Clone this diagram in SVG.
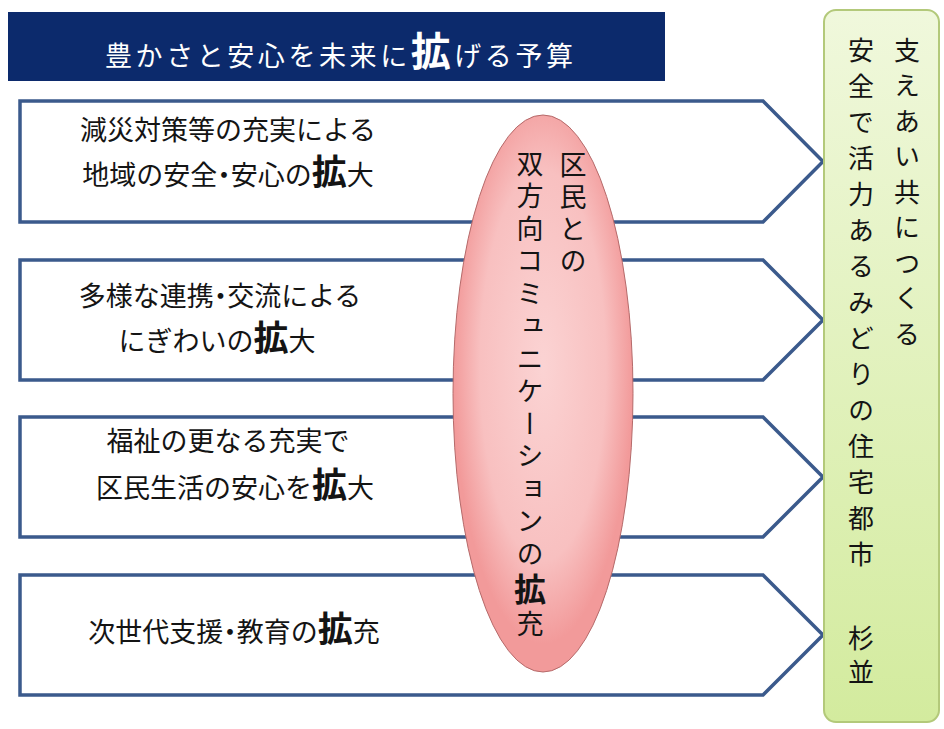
<svg xmlns="http://www.w3.org/2000/svg" width="944" height="729" viewBox="0 0 944 729">
<style>
.t{font-family:"Noto Sans CJK JP","Noto Sans CJK SC",sans-serif;fill:#141414;font-size:27px}
.k{font-weight:bold;font-size:35px}
.d{font-feature-settings:"palt"}
.box{fill:#ffffff;stroke:#3b5a8c;stroke-width:3.5;stroke-linejoin:miter}
.v{font-family:"Noto Sans CJK JP","Noto Sans CJK SC",sans-serif;fill:#141414;writing-mode:vertical-rl}
</style>
<defs>
<linearGradient id="g" x1="0" y1="0" x2="0" y2="1">
<stop offset="0" stop-color="#f0f8dc"/>
<stop offset="1" stop-color="#d3eb9e"/>
</linearGradient>
<radialGradient id="p" cx="0.5" cy="0.45" r="0.5">
<stop offset="0" stop-color="#fbd3d3"/>
<stop offset="0.7" stop-color="#f8c0c0"/>
<stop offset="1" stop-color="#f29a9a"/>
</radialGradient>
</defs>
<rect width="944" height="729" fill="#ffffff"/>
<g id="header">
<rect x="8" y="12" width="657" height="69" fill="#0c2a6c"/>
<text class="t" x="105" y="66" style="fill:#ffffff" textLength="468" lengthAdjust="spacing">豊かさと安心を未来に<tspan class="k" style="font-size:40px;fill:#ffffff">拡</tspan>げる予算</text>
</g>
<g id="connectors"></g>
<g id="box1">
<path class="box" d="M20,101 L763,101 L823,161.5 L763,222 L20,222 Z"/>
<text class="t" x="228" y="140" text-anchor="middle">減災対策等の充実による</text>
<text class="t" x="228" y="185" text-anchor="middle">地域の安全<tspan class="d">・</tspan>安心の<tspan class="k">拡</tspan>大</text>
</g>
<g id="box2">
<path class="box" d="M20,260 L763,260 L823,320 L763,380 L20,380 Z"/>
<text class="t" x="220" y="306" text-anchor="middle">多様な連携<tspan class="d">・</tspan>交流による</text>
<text class="t" x="217" y="351" text-anchor="middle">にぎわいの<tspan class="k">拡</tspan>大</text>
</g>
<g id="box3">
<path class="box" d="M20,417 L763,417 L823,477 L763,537 L20,537 Z"/>
<text class="t" x="228" y="451" text-anchor="middle">福祉の更なる充実で</text>
<text class="t" x="235" y="498" text-anchor="middle">区民生活の安心を<tspan class="k">拡</tspan>大</text>
</g>
<g id="box4">
<path class="box" d="M20,575 L763,575 L823,635 L763,695 L20,695 Z"/>
<text class="t" x="234" y="642" text-anchor="middle">次世代支援<tspan class="d">・</tspan>教育の<tspan class="k">拡</tspan>充</text>
</g>
<g id="ellipse">
<ellipse cx="543" cy="393.5" rx="90" ry="278.5" fill="url(#p)" stroke="#b56a6a" stroke-width="1"/>
<text class="v" x="573" y="151" style="font-size:27px;letter-spacing:5px">区民との</text>
<text class="v" x="530" y="150" style="font-size:27px;letter-spacing:5.5px">双方向コミュニケーションの<tspan style="font-weight:bold;font-size:32px">拡</tspan>充</text>
</g>
<g id="panel">
<rect x="824" y="10" width="115" height="712" rx="12" ry="12" fill="url(#g)" stroke="#b3c97a" stroke-width="2"/>
<text class="v" x="907" y="37" style="font-size:26px;letter-spacing:9.5px">支えあい共につくる</text>
<text class="v" x="861" y="37" style="font-size:26px;letter-spacing:10px">安全で活力あるみどりの住宅都市</text>
<text class="v" x="861" y="625" style="font-size:26px;letter-spacing:8px">杉並</text>
</g>
</svg>
